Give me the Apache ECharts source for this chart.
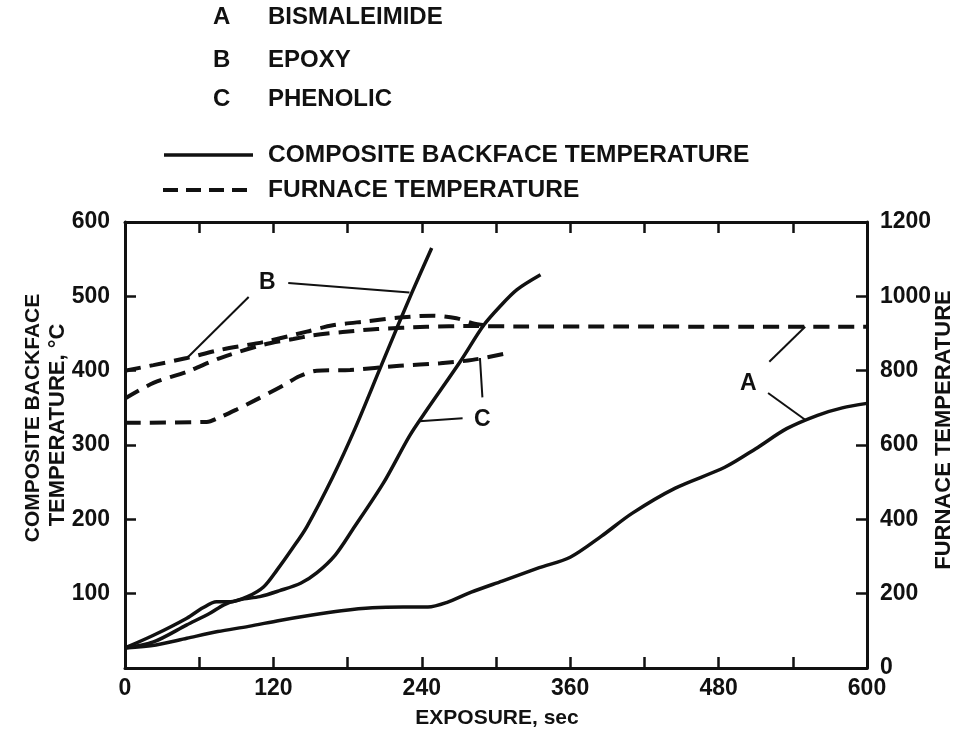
<!DOCTYPE html>
<html><head><meta charset="utf-8">
<script src="https://cdn.jsdelivr.net/npm/echarts@6/dist/echarts.min.js"></script>
<style>html,body{margin:0;padding:0;background:#fff}#c{width:962px;height:738px}</style>
</head><body><div id="c"></div>
<script>
// ---- data ----
const bismaleimideTime = [0, 25, 50, 75, 100, 125, 150, 175, 200, 225, 245, 260, 280, 305, 335, 360, 385, 410, 445, 485, 510, 535, 560, 580, 600];
const bismaleimideTemp = [27, 31, 40, 49, 56, 64, 71, 77, 81, 82, 82, 88, 102, 117, 135, 149, 177, 208, 242, 270, 295, 322, 340, 350, 356];
const epoxyTime = [0, 23, 50, 63, 74, 85, 99, 112, 123, 135, 147, 168, 186, 206, 220, 232, 248];
const epoxyTemp = [27, 44, 67, 81, 89, 89, 96, 109, 132, 160, 190, 257, 322, 402, 458, 505, 565];
const phenolicTime = [0, 23, 50, 69, 80, 93, 109, 125, 142, 155, 170, 184, 209, 230, 244, 271, 290, 303, 317, 336];
const phenolicTemp = [27, 35, 58, 74, 85, 92, 96, 104, 114, 128, 152, 186, 249, 312, 347, 412, 461, 486, 509, 529];
const furnaceATime = [0, 23, 50, 77, 112, 136, 152, 176, 204, 244, 280, 320, 400, 500, 600];
const furnaceATemp = [725, 767, 797, 834, 870, 885, 895, 904, 912, 918, 920, 919, 919, 918, 918];
const furnaceBTime = [0, 23, 50, 77, 112, 147, 168, 196, 222, 249, 268, 281, 293];
const furnaceBTemp = [800, 815, 834, 856, 877, 905, 922, 933, 943, 948, 941, 928, 921];
const furnaceCTime = [0, 66, 77, 90, 105, 128, 141, 155, 182, 222, 255, 281, 309];
const furnaceCTemp = [660, 662, 675, 695, 720, 760, 785, 800, 802, 813, 820, 829, 847];
const xTickValues = [0, 60, 120, 180, 240, 300, 360, 420, 480, 540, 600];
const leftTickLabels = ['100', '200', '300', '400', '500', '600'];
const rightTickLabels = ['0', '200', '400', '600', '800', '1000', '1200'];
const legendItems = [['A', 'BISMALEIMIDE'], ['B', 'EPOXY'], ['C', 'PHENOLIC']];
const lineKeyTexts = ['COMPOSITE BACKFACE TEMPERATURE', 'FURNACE TEMPERATURE'];

// annotation anchors in data coordinates (L = left axis, R = right axis)
const annoLabels = [['A', 504, 383], ['B', 115, 518], ['C', 289, 334]];
const annoLeaders = [
  [[132, 518, 'L'], [230, 505, 'L']],
  [[100, 499, 'L'], [51, 837, 'R']],
  [[273, 336, 'L'], [238, 332, 'L']],
  [[289, 364, 'L'], [287, 834, 'R']],
  [[521, 412, 'L'], [550, 918, 'R']],
  [[520, 370, 'L'], [550, 334, 'L']]
];

const zip = (a, b) => a.map((x, i) => [x, b[i]]);
const FONT = '"Liberation Sans", Arial, Helvetica, sans-serif';
const INK = '#111';

const chart = echarts.init(document.getElementById('c'), null, {renderer: 'canvas'});

const axisLine = {show: true, onZero: false, lineStyle: {color: INK, width: 3}};
const axisTick = {show: true, inside: true, length: 11, lineStyle: {color: INK, width: 2.5}};
const labelStyle = {color: INK, fontFamily: FONT, fontWeight: 'bold', fontSize: 23};

const solid = (name, t, v) => ({
  name, type: 'line', xAxisIndex: 0, yAxisIndex: 0, data: zip(t, v),
  smooth: 0.3, symbol: 'none', silent: true,
  lineStyle: {color: INK, width: 3.5}
});
const dashed = (name, t, v) => ({
  name, type: 'line', xAxisIndex: 0, yAxisIndex: 1, data: zip(t, v),
  smooth: 0.3, symbol: 'none', silent: true,
  lineStyle: {color: INK, width: 4, type: [16, 9]}
});

chart.setOption({
  animation: false,
  backgroundColor: '#fff',
  grid: {left: 125, right: 95, top: 222, bottom: 70, containLabel: false},
  xAxis: [
    {type: 'value', position: 'bottom', min: 0, max: 600, interval: 60,
     axisLine, axisTick, splitLine: {show: false},
     axisLabel: Object.assign({}, labelStyle, {margin: 9,
       formatter: v => (xTickValues.includes(v) && v % 120 === 0) ? String(v) : ''})},
    {type: 'value', position: 'top', min: 0, max: 600, interval: 60,
     axisLine, axisTick, splitLine: {show: false}, axisLabel: {show: false}}
  ],
  yAxis: [
    {type: 'value', position: 'left', min: 0, max: 600, interval: 100,
     axisLine, axisTick, splitLine: {show: false},
     axisLabel: Object.assign({}, labelStyle, {margin: 15,
       formatter: v => leftTickLabels.includes(String(v)) ? String(v) : ''})},
    {type: 'value', position: 'right', min: 0, max: 1200, interval: 200,
     axisLine, axisTick, splitLine: {show: false},
     axisLabel: Object.assign({}, labelStyle, {margin: 13,
       formatter: v => rightTickLabels.includes(String(v)) ? String(v) : ''})}
  ],
  series: [
    solid('A BISMALEIMIDE', bismaleimideTime, bismaleimideTemp),
    solid('B EPOXY', epoxyTime, epoxyTemp),
    solid('C PHENOLIC', phenolicTime, phenolicTemp),
    dashed('A FURNACE', furnaceATime, furnaceATemp),
    dashed('B FURNACE', furnaceBTime, furnaceBTemp),
    dashed('C FURNACE', furnaceCTime, furnaceCTemp)
  ]
});

const px = (t, v, ax) => chart.convertToPixel({xAxisIndex: 0, yAxisIndex: ax === 'R' ? 1 : 0}, [t, v]);

const g = [];
const txt = (text, x, y, size, align, rot) => ({
  type: 'text', x, y, rotation: rot || 0, silent: true,
  style: {text, fill: INK, font: 'bold ' + size + 'px ' + FONT,
          align: align || 'left', verticalAlign: 'middle'}
});
// legend block
const legendY = [17, 60, 99];
legendItems.forEach((it, i) => {
  g.push(txt(it[0], 213, legendY[i], 24));
  g.push(txt(it[1], 268, legendY[i], 24));
});
g.push({type: 'line', silent: true, shape: {x1: 164, y1: 155, x2: 253, y2: 155},
        style: {stroke: INK, lineWidth: 3.5}});
g.push(txt(lineKeyTexts[0], 268, 155, 24.5));
g.push({type: 'line', silent: true, shape: {x1: 163, y1: 190, x2: 253, y2: 190},
        style: {stroke: INK, lineWidth: 4, lineDash: [15, 8]}});
g.push(txt(lineKeyTexts[1], 268, 190, 24.5));
// axis titles
g.push(txt('COMPOSITE BACKFACE', 33, 418, 21, 'center', Math.PI / 2));
g.push(txt('TEMPERATURE, °C', 58, 425, 22, 'center', Math.PI / 2));
g.push(txt('FURNACE TEMPERATURE', 944, 430, 22, 'center', Math.PI / 2));
g.push(txt('EXPOSURE, sec', 497, 718, 21, 'center'));
// annotations
annoLabels.forEach(a => {
  const p = px(a[1], a[2], 'L');
  g.push(txt(a[0], p[0], p[1], 23, 'center'));
});
annoLeaders.forEach(l => {
  const p1 = px(l[0][0], l[0][1], l[0][2]);
  const p2 = px(l[1][0], l[1][1], l[1][2]);
  g.push({type: 'line', silent: true, shape: {x1: p1[0], y1: p1[1], x2: p2[0], y2: p2[1]},
          style: {stroke: INK, lineWidth: 2}});
});
chart.setOption({graphic: g});
</script></body></html>
